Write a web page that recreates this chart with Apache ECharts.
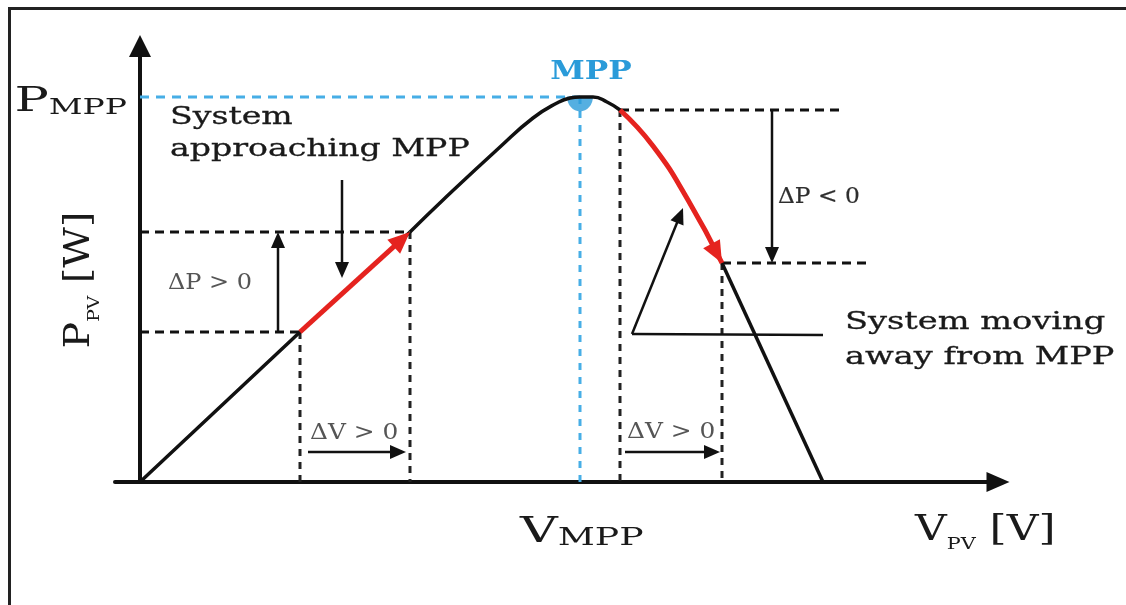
<!DOCTYPE html>
<html>
<head>
<meta charset="utf-8">
<script src="https://cdn.jsdelivr.net/npm/echarts@6/dist/echarts.min.js"></script>
<style>
  html, body { margin: 0; padding: 0; background: #ffffff; }
  #chart { width: 1126px; height: 605px; }
</style>
</head>
<body>
<div id="chart"></div>
<script>
// P–V characteristic of a PV source (relative units): rises from the origin,
// peaks at the maximum power point and drops to zero at open-circuit voltage.
const pvVoltage = [0, 16, 27, 30.3, 36, 39.3, 41.7, 43, 44, 45.3, 46.7, 48, 51.3, 54.8, 58.2, 68.3];
const pvPower   = [0, 15, 25, 28.2, 33.5, 36.4, 37.9, 38.4, 38.5, 38.5, 38.0, 37.2, 33.6, 28.2, 21.9, 0];

// Operating points (indices into the curve) used to illustrate perturb & observe
const mppIndex = 8;
const leftStep = [1, 2];    // ΔV > 0 gives ΔP > 0
const rightStep = [11, 14]; // ΔV > 0 gives ΔP < 0

// Where the dashed reference lines to the right of the curve stop (V)
const rightGuideEnds = [70.5, 73];

// Annotation arrows, [fromV, fromP, toV, toP]
const deltaVLevel = 3.0;
const deltaVArrows = [[16.8, deltaVLevel, 26.6, deltaVLevel], [48.5, deltaVLevel, 58.0, deltaVLevel]];
const deltaPUpV = 13.8;
const deltaPDownV = 63.2;
const approachArrow = [20.2, 30.2, 20.2, 20.4];
const awayPointer = { corner: [49.2, 14.8], tail: [68.3, 14.7], tip: [54.3, 27.4] };

const pt = i => [pvVoltage[i], pvPower[i]];
const slice = (a, b) => pvVoltage.slice(a, b + 1).map((v, k) => [v, pvPower[a + k]]);

const BLACK = '#111111';
const INK = '#1a1a1a';
const RED = '#e5231f';
const BLUE = '#2a9bd9';
const BLUE_DASH = '#47aee6';
const SERIF = '"DejaVu Serif", "Liberation Serif", serif';

// Segment / arrow renderer: each datum is [x1, y1, x2, y2] in axis units
function segmentSeries(name, segments, opt) {
  return {
    type: 'custom',
    name,
    coordinateSystem: 'cartesian2d',
    silent: true,
    z: opt.z || 3,
    encode: { x: [0, 2], y: [1, 3] },
    data: segments,
    renderItem(params, api) {
      const a = api.coord([api.value(0), api.value(1)]);
      const b = api.coord([api.value(2), api.value(3)]);
      const dx = b[0] - a[0], dy = b[1] - a[1];
      const len = Math.hypot(dx, dy) || 1;
      const ux = dx / len, uy = dy / len;
      const hl = opt.head ? opt.head[0] : 0;
      const hw = opt.head ? opt.head[1] : 0;
      const bx = b[0] - ux * hl, by = b[1] - uy * hl;
      const children = [];
      if (!opt.headOnly) {
        const ex = hl ? bx + ux * 2 : b[0];
        const ey = hl ? by + uy * 2 : b[1];
        children.push({
          type: 'line',
          shape: { x1: a[0], y1: a[1], x2: ex, y2: ey },
          style: { stroke: opt.color, lineWidth: opt.width, lineDash: opt.dash || null, lineCap: 'butt' }
        });
      }
      if (hl) {
        children.push({
          type: 'polygon',
          shape: { points: [[b[0], b[1]], [bx - uy * hw / 2, by + ux * hw / 2], [bx + uy * hw / 2, by - ux * hw / 2]] },
          style: { fill: opt.color }
        });
      }
      return { type: 'group', children };
    }
  };
}

const [i1, i2] = leftStep;
const [i3, i4] = rightStep;

const blackHorizontal = [
  [0, pvPower[i1], pvVoltage[i1], pvPower[i1]],
  [0, pvPower[i2], pvVoltage[i2], pvPower[i2]],
  [pvVoltage[i3], pvPower[i3], rightGuideEnds[0], pvPower[i3]],
  [pvVoltage[i4], pvPower[i4], rightGuideEnds[1], pvPower[i4]]
];
const blackVertical = [i1, i2, i3, i4].map(i => [pvVoltage[i], pvPower[i], pvVoltage[i], 0]);
const blueHorizontal = [[0, pvPower[mppIndex], pvVoltage[mppIndex], pvPower[mppIndex]]];
const blueVertical = [[pvVoltage[mppIndex], pvPower[mppIndex], pvVoltage[mppIndex], 0]];

const thinArrows = [
  ...deltaVArrows,
  [deltaPUpV, pvPower[i1], deltaPUpV, pvPower[i2]],
  [deltaPDownV, pvPower[i3], deltaPDownV, pvPower[i4]],
  approachArrow,
  [awayPointer.corner[0], awayPointer.corner[1], awayPointer.tip[0], awayPointer.tip[1]]
];
const pointerBar = [[awayPointer.tail[0], awayPointer.tail[1], awayPointer.corner[0], awayPointer.corner[1]]];

const chart = echarts.init(document.getElementById('chart'), null, { renderer: 'canvas' });

const axisCommon = {
  type: 'value',
  axisTick: { show: false },
  axisLabel: { show: false },
  splitLine: { show: false }
};

chart.setOption({
  animation: false,
  backgroundColor: '#ffffff',
  grid: { left: 115, right: 128, top: 46, bottom: 123, containLabel: false, outerBoundsMode: 'none' },
  xAxis: Object.assign({}, axisCommon, {
    min: -2.5, max: 85.8,
    axisLine: { show: true, onZero: true, symbol: ['none', 'triangle'], symbolSize: [20, 23],
      lineStyle: { color: BLACK, width: 4 } }
  }),
  yAxis: Object.assign({}, axisCommon, {
    min: 0, max: 43.6,
    axisLine: { show: true, onZero: true, symbol: ['none', 'triangle'], symbolSize: [22, 22],
      lineStyle: { color: BLACK, width: 4 } }
  }),
  series: [
    segmentSeries('guides', blackHorizontal, { color: BLACK, width: 3, dash: [9, 6], z: 2 }),
    segmentSeries('guides-v', blackVertical, { color: '#222222', width: 3, dash: [7, 6], z: 2 }),
    segmentSeries('mpp-h', blueHorizontal, { color: BLUE_DASH, width: 3, dash: [9, 7], z: 2 }),
    segmentSeries('mpp-v', blueVertical, { color: BLUE_DASH, width: 3, dash: [7, 7], z: 2 }),
    {
      type: 'scatter', name: 'MPP', z: 3, silent: true,
      symbol: 'path://M0,0 A10,10 0 0 0 20,0 Z', symbolSize: [26, 15], symbolOffset: [0, 7],
      itemStyle: { color: BLUE },
      data: [pt(mppIndex)]
    },
    {
      type: 'line', name: 'pv-rise', z: 4, silent: true, symbol: 'none',
      lineStyle: { color: BLACK, width: 3.5 }, data: slice(0, i2)
    },
    {
      type: 'line', name: 'pv-peak', z: 4, silent: true, symbol: 'none', smooth: 0.5,
      lineStyle: { color: BLACK, width: 3.5 }, data: slice(i2, i3)
    },
    {
      type: 'line', name: 'pv-fall', z: 4, silent: true, symbol: 'none',
      lineStyle: { color: BLACK, width: 3.5 }, data: slice(i4, pvVoltage.length - 1)
    },
    segmentSeries('step-up', [[pvVoltage[i1], pvPower[i1], pvVoltage[i2], pvPower[i2]]],
      { color: RED, width: 5, head: [22, 19], z: 6 }),
    {
      type: 'line', name: 'step-down', z: 6, silent: true, symbol: 'none', smooth: 0.5,
      lineStyle: { color: RED, width: 5, cap: 'butt' }, data: slice(i3, i4)
    },
    segmentSeries('step-down-head', [[pvVoltage[i4 - 1], pvPower[i4 - 1], pvVoltage[i4], pvPower[i4]]],
      { color: RED, width: 5, head: [22, 19], headOnly: true, z: 7 }),
    segmentSeries('arrows', thinArrows, { color: BLACK, width: 2.5, head: [16, 14], z: 5 }),
    segmentSeries('pointer', pointerBar, { color: BLACK, width: 2.5, z: 5 })
  ]
});

// Rich-text tokens sharing the line bottom; `raise` lifts a token (used to drop subscripts)
const tok = (fs, raise) => ({
  fontSize: fs, fontFamily: SERIF, verticalAlign: 'bottom',
  padding: [0, 0, raise || 0, 0]
});

// Text annotations, anchored in axis units
const notes = [
  { at: [-1.3, 36.3], align: 'right', vAlign: 'bottom', sx: 1.5, fill: INK,
    text: '{b|P}{s|MPP}', rich: { b: tok(34), s: tok(22) } },
  { at: [38.0, -6.9], align: 'left', vAlign: 'bottom', sx: 1.45, fill: INK,
    text: '{b|V}{s|MPP}', rich: { b: tok(36), s: tok(25) } },
  { at: [77.5, -7.1], align: 'left', vAlign: 'bottom', sx: 1.22, fill: INK,
    text: '{b|V}{s|PV}{b| [V]}', rich: { b: tok(36, 4), s: tok(17) } },
  { at: [-3.7, 20.2], align: 'center', vAlign: 'bottom', sx: 1.1, rot: Math.PI / 2, fill: INK,
    text: '{b|P}{s|PV}{b| [W]}', rich: { b: tok(36, 5), s: tok(17) } },
  { at: [45.1, 41.0], align: 'center', vAlign: 'middle', sx: 1.2, fill: BLUE,
    text: 'MPP', font: 'bold 26px ' + SERIF },
  { at: [3.0, 34.8], align: 'left', vAlign: 'middle', sx: 1.38, fill: INK, lh: 32, weight: 0.3,
    text: 'System\napproaching MPP', font: '24px ' + SERIF },
  { at: [70.5, 14.2], align: 'left', vAlign: 'middle', sx: 1.4, fill: INK, lh: 35, weight: 0.3,
    text: 'System moving\naway from MPP', font: '24px ' + SERIF },
  { at: [2.8, 19.9], align: 'left', vAlign: 'middle', sx: 1.09, fill: '#555555',
    text: 'ΔP > 0', font: '22px ' + SERIF },
  { at: [63.8, 28.5], align: 'left', vAlign: 'middle', sx: 1.06, fill: '#2e2e2e', weight: 0.2,
    text: 'ΔP < 0', font: '22px ' + SERIF },
  { at: [17.0, 4.9], align: 'left', vAlign: 'middle', sx: 1.13, fill: '#555555',
    text: 'ΔV > 0', font: '22px ' + SERIF },
  { at: [48.7, 5.0], align: 'left', vAlign: 'middle', sx: 1.13, fill: '#555555',
    text: 'ΔV > 0', font: '22px ' + SERIF }
];

const graphics = notes.map(n => {
  const p = chart.convertToPixel({ gridIndex: 0 }, n.at);
  const style = { text: n.text, fill: n.fill, align: n.align, verticalAlign: n.vAlign };
  if (n.rich) { style.rich = n.rich; style.fontFamily = SERIF; }
  if (n.font) style.font = n.font;
  if (n.lh) style.lineHeight = n.lh;
  if (n.weight) { style.stroke = n.fill; style.lineWidth = n.weight; }
  return { type: 'text', x: p[0], y: p[1], scaleX: n.sx, rotation: n.rot || 0, silent: true, z: 10, style };
});

// Picture frame on the left and top edges
graphics.push(
  { type: 'line', silent: true, z: 10, shape: { x1: 9.5, y1: 8.5, x2: 1126, y2: 8.5 }, style: { stroke: '#222222', lineWidth: 3 } },
  { type: 'line', silent: true, z: 10, shape: { x1: 9.5, y1: 7, x2: 9.5, y2: 605 }, style: { stroke: '#222222', lineWidth: 3 } }
);

chart.setOption({ graphic: graphics });
</script>
</body>
</html>
